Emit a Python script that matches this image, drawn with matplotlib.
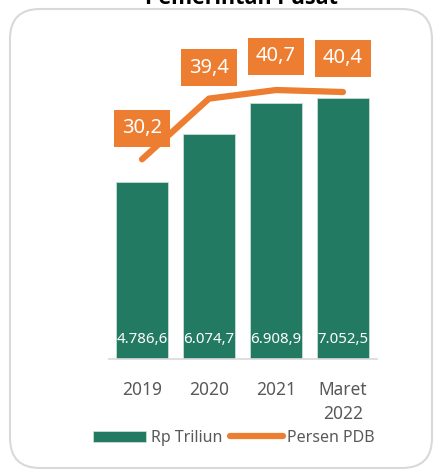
import matplotlib.pyplot as plt
from matplotlib.patches import FancyBboxPatch

plt.rcParams['font.family'] = ['Noto Sans', 'DejaVu Sans']

# data
categories = ['2019', '2020', '2021', 'Maret\n2022']
rp_triliun = [4786.6, 6074.7, 6908.9, 7052.5]
rp_labels = ['4.786,6', '6.074,7', '6.908,9', '7.052,5']
persen_pdb = [30.2, 39.4, 40.7, 40.4]
pdb_labels = ['30,2', '39,4', '40,7', '40,4']

GREEN = '#237A62'
ORANGE = '#ED7D31'
GREY = '#595959'

W, H = 435, 471
fig = plt.figure(figsize=(W / 100, H / 100), dpi=100)

# rounded frame, on a background axes so it sits behind the chart
bg = fig.add_axes([0, 0, 1, 1], zorder=-1)
bg.set_xlim(0, W)
bg.set_ylim(H, 0)
bg.axis('off')
bg.add_patch(FancyBboxPatch((10, 9), 422, 459,
                            boxstyle='round,pad=0,rounding_size=30',
                            facecolor='white', edgecolor='#D9D9D9',
                            linewidth=1.5))

fig.text(242 / W, 1 - 4 / H, 'Pemerintah Pusat', ha='center', va='baseline',
         fontsize=15.5, fontweight='bold', color='black',
         family=['Open Sans', 'DejaVu Sans'])

left, right = 108.5, 376.5
base, top = 358.5, 30
ax = fig.add_axes([left / W, 1 - base / H, (right - left) / W, (base - top) / H])
ax.patch.set_alpha(0)

x = list(range(len(categories)))
bars = ax.bar(x, rp_triliun, width=0.77, color=GREEN, edgecolor='#C8DDD6',
              linewidth=0.6, label='Rp Triliun', zorder=2)
ax.set_xlim(-0.5, 3.5)
ax.set_ylim(0, 8900)
for xi, lab in zip(x, rp_labels):
    ax.text(xi, 310, lab, ha='center', va='bottom', color='white',
            fontsize=10.8, zorder=3)

for s in ['top', 'right', 'left']:
    ax.spines[s].set_visible(False)
ax.spines['bottom'].set_color('#D9D9D9')
ax.spines['bottom'].set_linewidth(1.2)
ax.set_yticks([])
ax.set_xticks(x)
ax.set_xticklabels(categories, color=GREY, fontsize=12.5, linespacing=1.45)
ax.tick_params(axis='x', length=0, pad=16)

ax2 = ax.twinx()
ax2.set_ylim(0, 49.8)
ax2.set_yticks([])
for s in ax2.spines.values():
    s.set_visible(False)
line, = ax2.plot(x, persen_pdb, color=ORANGE, linewidth=4.5,
                 solid_capstyle='round', solid_joinstyle='round',
                 label='Persen PDB', zorder=3)
offsets = [4.7, 4.7, 5.1, 5.1]
for xi, v, lab, off in zip(x, persen_pdb, pdb_labels, offsets):
    ax2.text(xi, v + off, lab, ha='center', va='center', color='white',
             fontsize=14.5, zorder=4,
             bbox=dict(boxstyle='square,pad=0.42', facecolor=ORANGE,
                       edgecolor='none'))

fig.legend([bars, line], ['Rp Triliun', 'Persen PDB'], loc='center',
           bbox_to_anchor=(234 / W, 1 - 438 / H), ncol=2, frameon=False,
           fontsize=11.5, labelcolor=GREY, handlelength=3.3, handleheight=0.75,
           handletextpad=0.3, columnspacing=0.5)

fig.savefig('out.png', dpi=100)
